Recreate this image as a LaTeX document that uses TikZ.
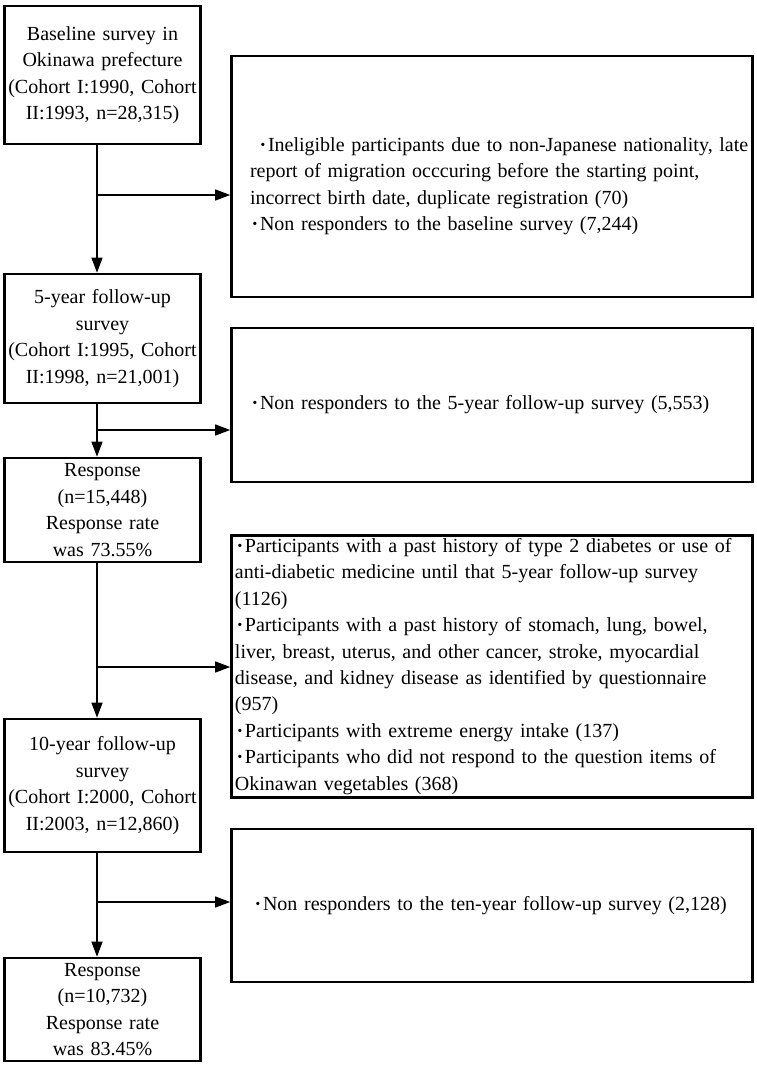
\documentclass[tikz,border=0pt]{standalone}
\usepackage{fontspec}
\setmainfont{Liberation Serif}
\usepackage{tikz}
\usetikzlibrary{shapes,arrows.meta}
\usetikzlibrary{calc}

\newcommand{\bul}{\makebox[0.5em]{\textbf{\textperiodcentered}}}

\tikzset{
	leftbox/.style={draw,line width=2.6bp,minimum width=196bp,text width=196bp,inner xsep=0pt,inner ysep=2bp,align=center},
	rightbox/.style={draw,line width=2.6bp,minimum width=521bp,text width=484bp,inner xsep=18.5bp,inner ysep=1bp,align=left},
	link/.style={line width=1.2bp,->}
}

\begin{document}
\begin{tikzpicture}[x=1bp,y=-1bp,font=\fontsize{20bp}{26.4bp}\selectfont,>={Triangle[length=15bp,width=11bp]}]
	\useasboundingbox (0,0) rectangle (757,1065);
	
	% survey boxes
	\node[leftbox,minimum height=138bp] (base) at (102.5,75) {Baseline survey in\\Okinawa prefecture\\(Cohort I:1990, Cohort\\II:1993, n=28,315)};
	\node[leftbox,minimum height=129bp] (fu5) at (102.5,338.5) {5-year follow-up\\survey\\(Cohort I:1995, Cohort\\II:1998, n=21,001)};
	\node[leftbox,minimum height=104bp] (resp5) at (102.5,510) {Response\\(n=15,448)\\Response rate\\was 73.55\%};
	\node[leftbox,minimum height=133bp] (fu10) at (102.5,785.5) {10-year follow-up\\survey\\(Cohort I:2000, Cohort\\II:2003, n=12,860)};
	\node[leftbox,minimum height=103bp] (resp10) at (102.5,1009.5) {Response\\(n=10,732)\\Response rate\\was 83.45\%};
	
	% exclusion boxes
	\node[rightbox,minimum height=241bp] (excl1) at (492,176.5) {\mbox{\rule{0pt}{33bp}\hspace*{0.4em}\bul Ineligible participants due to non-Japanese nationality, late}\\report of migration occcuring before the starting point,\\incorrect birth date, duplicate registration (70)\\\bul Non responders to the baseline survey (7,244)};
	\node[rightbox,minimum height=154bp] (excl2) at (492,405) {\mbox{\bul Non responders to the 5-year follow-up survey (5,553)}};
	\node[rightbox,minimum height=262bp,text width=514bp,inner xsep=3.5bp,inner ysep=0pt] (excl3) at (492,666.5) {\bul Participants with a past history of type 2 diabetes or use of\\anti-diabetic medicine until that 5-year follow-up survey\\(1126)\\\bul Participants with a past history of stomach, lung, bowel,\\liver, breast, uterus, and other cancer, stroke, myocardial\\disease, and kidney disease as identified by questionnaire\\(957)\\\bul Participants with extreme energy intake (137)\\\bul Participants who did not respond to the question items of\\Okinawan vegetables (368)};
	\node[rightbox,minimum height=153bp] (excl4) at (492,905.5) {\mbox{\hspace*{0.15em}\bul Non responders to the ten-year follow-up survey (2,128)}};
	
	% branch points on the trunk
	\coordinate (t1) at (97,195);
	\coordinate (t2) at (97,430);
	\coordinate (t3) at (97,667);
	\coordinate (t4) at (97,902);
	
	\draw[link] (base.south -| t1) -- (fu5.north -| t1);
	\draw[link] (t1) -- (t1 -| excl1.west);
	\draw[link] (fu5.south -| t2) -- (resp5.north -| t2);
	\draw[link] (t2) -- (t2 -| excl2.west);
	\draw[link] (resp5.south -| t3) -- (fu10.north -| t3);
	\draw[link] (t3) -- (t3 -| excl3.west);
	\draw[link] (fu10.south -| t4) -- (resp10.north -| t4);
	\draw[link] (t4) -- (t4 -| excl4.west);
\end{tikzpicture}
\end{document}
